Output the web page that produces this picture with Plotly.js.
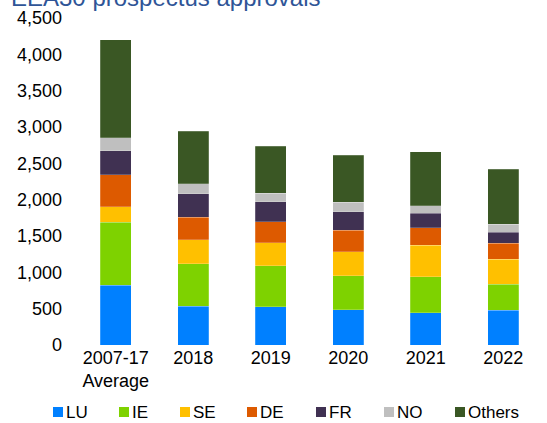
<!DOCTYPE html>
<html>
<head>
<meta charset="utf-8">
<script src="https://cdn.plot.ly/plotly-3.0.1.min.js"></script>
<style>
  html, body { margin: 0; padding: 0; background: #fff; }
  #chart { width: 547px; height: 423px; }
</style>
</head>
<body>
<div id="chart"></div>
<script>
const categories = ["2007-17<br>Average", "2018", "2019", "2020", "2021", "2022"];
const LU     = [825, 530, 527, 486, 445, 477];
const IE     = [865, 590, 564, 464, 491, 358];
const SE     = [210, 330, 317, 330, 436, 348];
const DE     = [440, 310, 289, 298, 242, 216];
const FR     = [330, 320, 271, 257, 198, 156];
const NO     = [180, 140, 119, 128, 101, 106];
const Others = [1350, 725, 651, 647, 747, 757];
const seriesNames = ["LU", "IE", "SE", "DE", "FR", "NO", "Others"];
const seriesValues = [LU, IE, SE, DE, FR, NO, Others];
const colors = ["#0080FF", "#7ED200", "#FFC000", "#DD5A00", "#403152", "#BFBFBF", "#3A5724"];

const traces = seriesNames.map((name, i) => ({
  type: "bar",
  name: name,
  x: categories,
  y: seriesValues[i],
  marker: { color: colors[i], line: { width: 0.6, color: "rgba(255,255,255,0.35)" } },
  hoverinfo: "skip"
}));

// Plot-area geometry (pixels) used to place the hand-built legend below the chart
const W = 547, H = 423, ML = 77, MR = 5, MT = 18, MB = 78;
const PW = W - ML - MR, PH = H - MT - MB;
const px2x = p => (p - ML) / PW;
const py2y = p => (H - MB - p) / PH;

// legend layout (pixel left edge of each swatch)
const swatchLeft = [53, 119, 180, 247, 316, 384, 455];
const swatchSize = 10, legendMid = 412;

const shapes = seriesNames.map((n, i) => ({
  type: "rect", xref: "paper", yref: "paper",
  x0: px2x(swatchLeft[i]), x1: px2x(swatchLeft[i] + swatchSize),
  y0: py2y(legendMid + swatchSize / 2), y1: py2y(legendMid - swatchSize / 2),
  fillcolor: colors[i], line: { width: 0 }
}));
const annotations = seriesNames.map((n, i) => ({
  text: n, xref: "paper", yref: "paper",
  x: px2x(swatchLeft[i] + swatchSize + 2), xanchor: "left",
  y: py2y(legendMid), yanchor: "middle",
  showarrow: false, borderpad: 0,
  font: { size: 17, color: "#000" }
}));

const layout = {
  width: W,
  height: H,
  margin: { l: ML, r: MR, t: MT, b: MB, autoexpand: false },
  paper_bgcolor: "#ffffff",
  plot_bgcolor: "#ffffff",
  barmode: "stack",
  bargap: 0.6,
  font: { family: "Liberation Sans, Arial, sans-serif", size: 17, color: "#000" },
  title: {
    text: "EEA30 prospectus approvals",
    font: { family: "Liberation Sans, Arial, sans-serif", size: 24, color: "#2F5597" },
    xref: "container", x: 11 / W, xanchor: "left",
    yref: "container", y: 1 - 6 / H, yanchor: "bottom"
  },
  xaxis: {
    type: "category",
    showgrid: false, showline: false, zeroline: false,
    ticks: "",
    tickfont: { size: 18, color: "#000" },
    range: [-0.5, 5.5]
  },
  yaxis: {
    range: [0, 4500],
    dtick: 500,
    tickformat: ",d",
    showgrid: false, showline: false, zeroline: false,
    ticks: "",
    ticklabelstandoff: 14,
    tickfont: { size: 18, color: "#000" }
  },
  showlegend: false,
  shapes: shapes,
  annotations: annotations
};

Plotly.newPlot("chart", traces, layout, { displayModeBar: false, staticPlot: true });
</script>
</body>
</html>
